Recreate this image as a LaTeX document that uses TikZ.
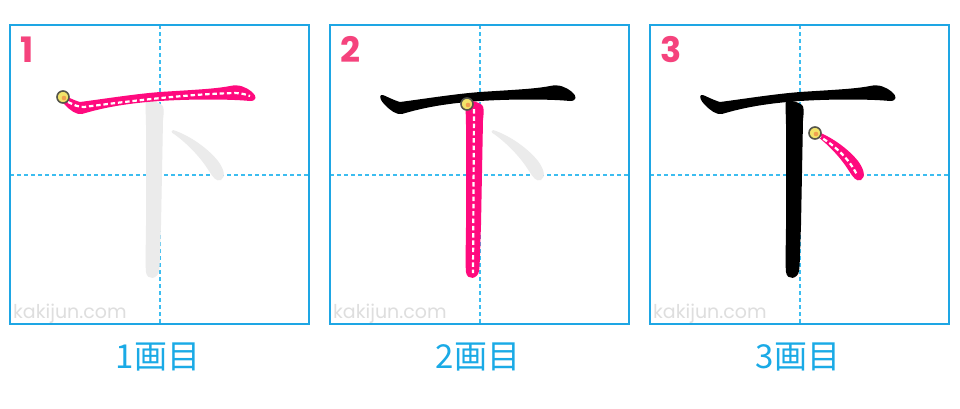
\documentclass[tikz,border=0pt]{standalone}
\usepackage{fontspec}
\setmainfont{Poppins}
\newfontfamily\jpfont{Noto Sans CJK JP}
\usetikzlibrary{positioning}
\definecolor{boxblue}{HTML}{1EA6E4}
\definecolor{guideblue}{HTML}{3CBDF0}
\definecolor{inkpink}{HTML}{FF0A7E}
\definecolor{numpink}{HTML}{F5437D}
\definecolor{capblue}{HTML}{1AAAE6}
\definecolor{ghostgrey}{HTML}{EBEBEB}
\definecolor{sitegrey}{HTML}{DEDEDE}
\definecolor{dotring}{HTML}{55554A}
\definecolor{dotfill}{HTML}{F2E46A}
\definecolor{dotcore}{HTML}{F0A050}

% stroke outlines, panel coordinates (0..299)
\newcommand{\strokeYoko}{(51,70) .. controls (53,69) and (60,74) .. (70,77)
  .. controls (100,73) and (125,69) .. (150,67)
  .. controls (180,65) and (205,64) .. (220,61)
  .. controls (229,59) and (236,62) .. (242,67)
  .. controls (247,71) and (247,76) .. (240,76)
  .. controls (220,74) and (180,74) .. (150,76)
  .. controls (120,78) and (95,82) .. (72,89)
  .. controls (66,90) and (60,85) .. (55,80)
  .. controls (51,76) and (49,72) .. (51,70) -- cycle}
\newcommand{\strokeTate}{(136,76) .. controls (142,75) and (148,77) .. (152,80)
  .. controls (154,82) and (154,86) .. (153,95)
  -- (151,200)
  .. controls (150,225) and (150,240) .. (149,246)
  .. controls (148,254) and (137,256) .. (136,247)
  .. controls (135,235) and (136,220) .. (136,200)
  -- (136,100)
  .. controls (136,90) and (135,80) .. (136,76) -- cycle}
\newcommand{\strokeTen}{(163,105) .. controls (176,109) and (196,121) .. (208,136)
  .. controls (214,144) and (216,152) .. (211,155)
  .. controls (206,157) and (203,152) .. (199,146)
  .. controls (191,133) and (178,119) .. (164,109)
  .. controls (161,108) and (161,105) .. (163,105) -- cycle}

\begin{document}
\begin{tikzpicture}[
    x=1pt,y=-1pt,
    boxframe/.style={draw=boxblue,line width=1.4pt},
    guide/.style={guideblue,line width=1.2pt,dash pattern=on 4pt off 3pt},
    ghost/.style={fill=ghostgrey},
    done/.style={fill=black},
    active/.style={fill=inkpink},
    centreline/.style={white,line width=2.2pt,dash pattern=on 4.5pt off 2.8pt},
    startdot/.style={draw=dotring,fill=dotfill,line width=1.6pt},
    stepnum/.style={numpink,font=\fontsize{35}{35}\selectfont\bfseries,inner sep=0pt,anchor=base west},
    site/.style={sitegrey,font=\fontsize{19}{19}\selectfont,inner sep=0pt,anchor=base west},
    caption/.style={capblue,font=\jpfont\fontsize{33}{33}\selectfont,inner sep=0pt}
]
\useasboundingbox[fill=white] (0,0) rectangle (960,408);

% panel 1
\begin{scope}[shift={(10,25)}]
  \draw[guide] (150,0) -- (150,299);
  \draw[guide] (0,150) -- (299,150);
  \node[site] (site1) at (3,293) {kakijun.com};
  \fill[ghost] \strokeTate;
  \fill[ghost] \strokeTen;
  \fill[active] \strokeYoko;
  \draw[centreline] (58,77) .. controls (64,80) and (68,82) .. (74,82)
    .. controls (120,76) and (180,69) .. (225,68) .. controls (232,68) and (237,70) .. (240,71);
  \draw[startdot] (53,72) circle[radius=6pt];
  \fill[dotcore] (54,73) circle[radius=2.3pt];
  \draw[boxframe] (0,0) rectangle (299,299);
  \node[stepnum] (num1) at (10,37) {1};
  \node[caption] (cap1) at (148,332) {1画目};
\end{scope}

% panel 2
\begin{scope}[shift={(330,25)}]
  \draw[guide] (150,0) -- (150,299);
  \draw[guide] (0,150) -- (299,150);
  \node[site] (site2) at (3,293) {kakijun.com};
  \fill[ghost] \strokeTen;
  \fill[done] \strokeYoko;
  \fill[active] \strokeTate;
  \draw[centreline] (144,84) -- (143,248);
  \draw[startdot] (137,79) circle[radius=6pt];
  \fill[dotcore] (138,80) circle[radius=2.3pt];
  \draw[boxframe] (0,0) rectangle (299,299);
  \node[stepnum] (num2) at (10,37) {2};
  \node[caption] (cap2) at (148,332) {2画目};
\end{scope}

% panel 3
\begin{scope}[shift={(650,25)}]
  \draw[guide] (150,0) -- (150,299);
  \draw[guide] (0,150) -- (299,150);
  \node[site] (site3) at (3,293) {kakijun.com};
  \fill[done] \strokeYoko;
  \fill[done] \strokeTate;
  \fill[active] \strokeTen;
  \draw[centreline] (167,110) .. controls (185,120) and (200,135) .. (207,150);
  \draw[startdot] (165,108) circle[radius=6pt];
  \fill[dotcore] (166,109) circle[radius=2.3pt];
  \draw[boxframe] (0,0) rectangle (299,299);
  \node[stepnum] (num3) at (10,37) {3};
  \node[caption] (cap3) at (148,332) {3画目};
\end{scope}
\end{tikzpicture}
\end{document}
